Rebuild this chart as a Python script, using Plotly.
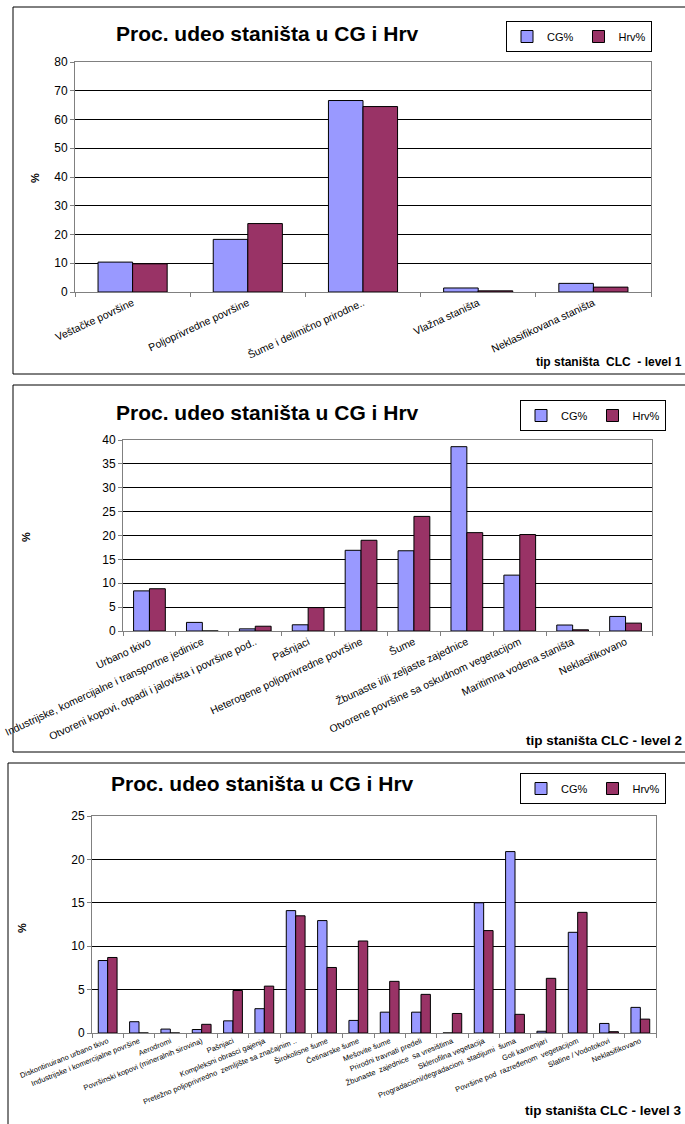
import plotly.graph_objects as go

W, H = 685, 1124

# ---------------- data ----------------
level1_categories = ["Veštačke površine", "Poljoprivredne površine", "Šume i delimično prirodne..",
                     "Vlažna staništa", "Neklasifikovana staništa"]
level1_cg = [10.4, 18.3, 66.6, 1.4, 3.0]
level1_hrv = [9.8, 23.8, 64.5, 0.4, 1.7]

level2_categories = ["Urbano tkivo", "Industrijske, komercijalne i transportne jedinice",
                     "Otvoreni kopovi, otpadi i jalovišta i površine pod..", "Pašnjaci",
                     "Heterogene poljoprivredne površine", "Šume", "Žbunaste i/ili zeljaste zajednice",
                     "Otvorene površine sa oskudnom vegetacijom", "Maritimna vodena staništa", "Neklasifikovano"]
level2_cg = [8.4, 1.8, 0.45, 1.3, 16.9, 16.8, 38.6, 11.7, 1.25, 3.05]
level2_hrv = [8.85, 0.0, 1.0, 4.9, 19.0, 24.0, 20.6, 20.2, 0.25, 1.65]

level3_categories = ["Diskontinuirano urbano tkivo", "Industrijske i komercijalne površine", "Aerodromi",
                     "Površinski kopovi (mineralnih sirovina)", "Pašnjaci", "Kompleksni obrasci gajenja",
                     "Pretežno poljoprivredno  zemljište sa značajnim ..", "Širokolisne šume", "Četinarske šume",
                     "Mešovite šume", "Prirodni travnati predeli", "Žbunaste  zajednice  sa vresištima",
                     "Sklerofilna vegetacija", "Progradacioni/degradacioni  stadijumi  šuma", "Goli kamenjari",
                     "Površine pod  razređenom  vegetacijom", "Slatine / Vodotokovi", "Neklasifikovano"]
level3_cg = [8.35, 1.3, 0.45, 0.4, 1.4, 2.8, 14.1, 12.95, 1.45, 2.4, 2.4, 0.0, 15.0, 20.9, 0.2, 11.6, 1.1, 2.95]
level3_hrv = [8.7, 0.0, 0.0, 1.0, 4.9, 5.4, 13.5, 7.55, 10.6, 5.95, 4.45, 2.25, 11.8, 2.15, 6.3, 13.9, 0.15, 1.6]

series_names = ["CG%", "Hrv%"]
chart_title = "Proc. udeo staništa u CG i Hrv"
x_titles = ["tip staništa  CLC  - level 1", "tip staništa CLC - level 2", "tip staništa CLC - level 3"]
y_title = "%"

# ---------------- styling ----------------
CG_COLOR = "#9999FF"
HRV_COLOR = "#993366"
FONT = "Liberation Sans, Arial, sans-serif"


def fx(p):
    return p / W


def fy(p):
    return 1 - p / H


panels = [
    dict(cats=level1_categories, cg=level1_cg, hrv=level1_hrv, xdom=(75, 651), ydom=(62, 292),
         ymax=80, dtick=10, xfont=10.5, angle=-25, box=(13, 7, 700, 374),
         title_xy=(267, 33), legend_xy=(506, 21), ylab_xy=(35, 178), xt_xy=(684, 362), xt_size=12),
    dict(cats=level2_categories, cg=level2_cg, hrv=level2_hrv, xdom=(123, 652), ydom=(440, 631),
         ymax=40, dtick=5, xfont=10.5, angle=-25, box=(13, 385, 700, 752),
         title_xy=(267, 413), legend_xy=(520, 400), ylab_xy=(26, 537), xt_xy=(684, 740), xt_size=13.5),
    dict(cats=level3_categories, cg=level3_cg, hrv=level3_hrv, xdom=(92, 656), ydom=(816, 1033),
         ymax=25, dtick=5, xfont=7.5, angle=-22, box=(8, 763, 700, 1140),
         title_xy=(262, 783), legend_xy=(520, 773), ylab_xy=(22, 928), xt_xy=(684, 1110), xt_size=13.5),
]

fig = go.Figure()
layout = dict(width=W, height=H, margin=dict(l=0, r=0, t=0, b=0),
              paper_bgcolor="white", plot_bgcolor="white", template="none",
              barmode="group", bargap=0.4, bargroupgap=0.0, showlegend=True,
              font=dict(family=FONT, color="black"))
shapes = []
annotations = []

for i, p in enumerate(panels):
    n = "" if i == 0 else str(i + 1)
    xa, ya = "x" + n, "y" + n
    leg = "legend" + n
    for name, vals, col in [(series_names[0], p["cg"], CG_COLOR), (series_names[1], p["hrv"], HRV_COLOR)]:
        fig.add_trace(go.Bar(x=p["cats"], y=vals, name=name, xaxis=xa, yaxis=ya, legend=leg,
                             marker=dict(color=col, line=dict(color="black", width=1)),
                             hoverinfo="x+y"))
    layout["xaxis" + n] = dict(domain=[fx(p["xdom"][0]), fx(p["xdom"][1])], anchor=ya, type="category",
                               tickson="boundaries", ticks="outside", ticklen=4, tickcolor="#808080",
                               showline=True, linecolor="#808080", linewidth=1, mirror=True,
                               showgrid=False, zeroline=False, tickangle=p["angle"], automargin=False,
                               tickfont=dict(family=FONT, size=p["xfont"], color="black"))
    layout["yaxis" + n] = dict(domain=[fy(p["ydom"][1]), fy(p["ydom"][0])], anchor=xa,
                               range=[0, p["ymax"]], dtick=p["dtick"], tick0=0,
                               ticks="outside", ticklen=4, tickcolor="#808080",
                               showline=True, linecolor="#808080", linewidth=1, mirror=True,
                               showgrid=True, gridcolor="black", gridwidth=1, zeroline=False,
                               automargin=False,
                               tickfont=dict(family=FONT, size=12, color="black"))
    layout[leg] = dict(x=fx(p["legend_xy"][0]), y=fy(p["legend_xy"][1]), xanchor="left", yanchor="top",
                       orientation="h", bordercolor="black", borderwidth=1, bgcolor="white",
                       font=dict(family=FONT, size=11, color="black"), itemwidth=30,
                       tracegroupgap=0)
    bx0, by0, bx1, by1 = p["box"]
    shapes.append(dict(type="rect", xref="paper", yref="paper", x0=fx(bx0), x1=fx(bx1),
                       y0=fy(by1), y1=fy(by0), line=dict(color="black", width=1), layer="below"))
    annotations.append(dict(text="<b>" + chart_title + "</b>", x=fx(p["title_xy"][0]), y=fy(p["title_xy"][1]),
                            xref="paper", yref="paper", xanchor="center", yanchor="middle", showarrow=False,
                            font=dict(family=FONT, size=21, color="black")))
    annotations.append(dict(text="<b>" + y_title + "</b>", x=fx(p["ylab_xy"][0]), y=fy(p["ylab_xy"][1]),
                            xref="paper", yref="paper", xanchor="center", yanchor="middle", showarrow=False,
                            textangle=-90, font=dict(family=FONT, size=11, color="black")))
    annotations.append(dict(text="<b>" + x_titles[i] + "</b>", x=fx(p["xt_xy"][0]), y=fy(p["xt_xy"][1]),
                            xref="paper", yref="paper", xanchor="right", yanchor="middle", showarrow=False,
                            font=dict(family=FONT, size=p["xt_size"], color="black")))

layout["shapes"] = shapes
layout["annotations"] = annotations
fig.update_layout(**layout)
fig.write_html("out.html", config={"displayModeBar": False},
               post_script="document.body.style.margin='0';document.body.style.overflow='hidden';")
